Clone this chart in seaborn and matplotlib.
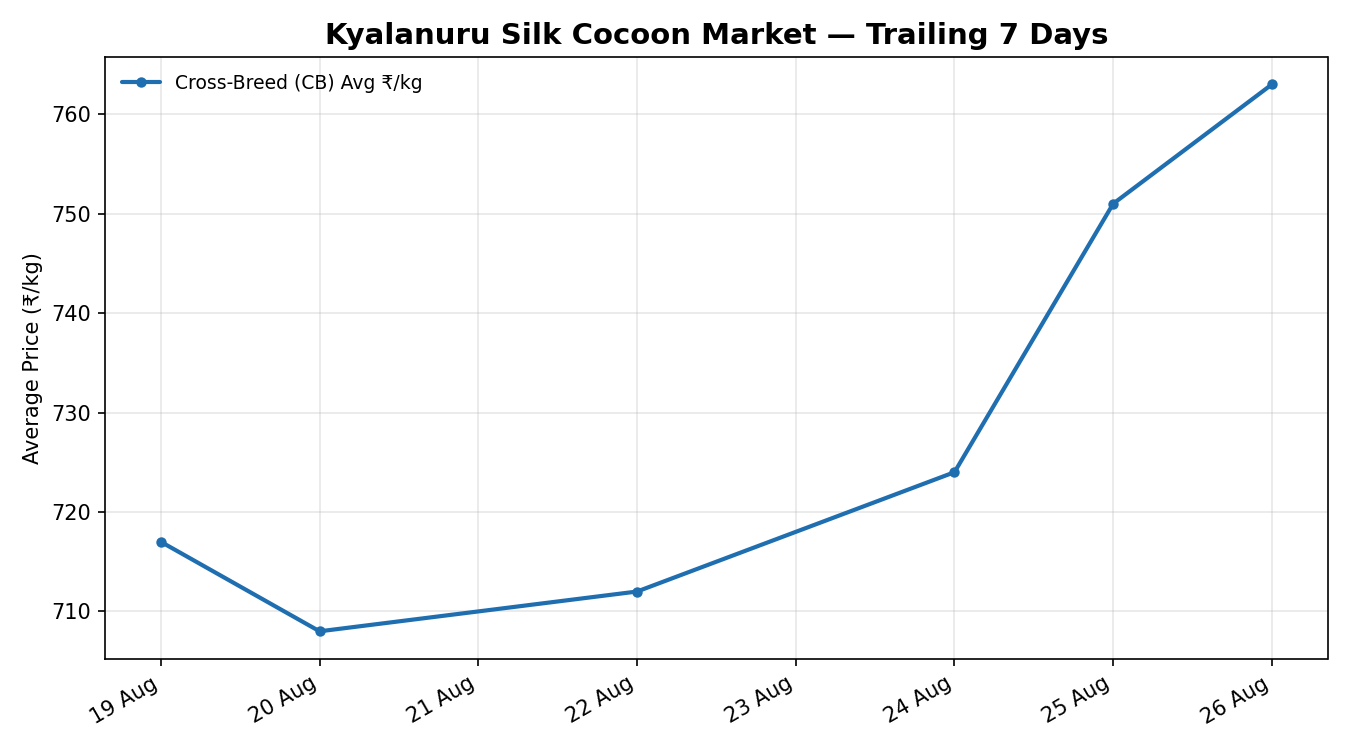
import pandas as pd
import seaborn as sns
import matplotlib.pyplot as plt
import matplotlib.dates as mdates

# Trailing 7 days of CB cocoon prices (no auction on 21 and 23 Aug)
dates = ["2024-08-19", "2024-08-20", "2024-08-22", "2024-08-24", "2024-08-25", "2024-08-26"]
avg_price = [717, 708, 712, 724, 751, 763]
series_name = "Cross-Breed (CB) Avg ₹/kg"

df = pd.DataFrame({"date": pd.to_datetime(dates), "price": avg_price})

sns.set_style("ticks")
plt.rcParams["font.family"] = ["DejaVu Sans"]
plt.rcParams.update({
    "text.color": "black",
    "axes.labelcolor": "black",
    "axes.edgecolor": "black",
    "xtick.color": "black",
    "ytick.color": "black",
})

fig, ax = plt.subplots(figsize=(9, 5), dpi=150)

sns.lineplot(
    data=df,
    x="date",
    y="price",
    marker="o",
    markersize=5,
    markeredgewidth=0,
    linewidth=2,
    color="#1f6eb0",
    label=series_name,
    ax=ax,
)

ax.grid(True, color="#b0b0b0", alpha=0.3, linewidth=0.8)
ax.set_title("Kyalanuru Silk Cocoon Market — Trailing 7 Days", fontsize=14, fontweight="bold")
ax.set_xlabel("")
ax.set_ylabel("Average Price (₹/kg)", fontsize=10)

ax.xaxis.set_major_locator(mdates.DayLocator())
ax.xaxis.set_major_formatter(mdates.DateFormatter("%d %b"))
fig.autofmt_xdate()

ax.legend(loc="upper left", frameon=False, fontsize=9)

plt.tight_layout()
plt.savefig("out.png", dpi=150)
plt.close()
